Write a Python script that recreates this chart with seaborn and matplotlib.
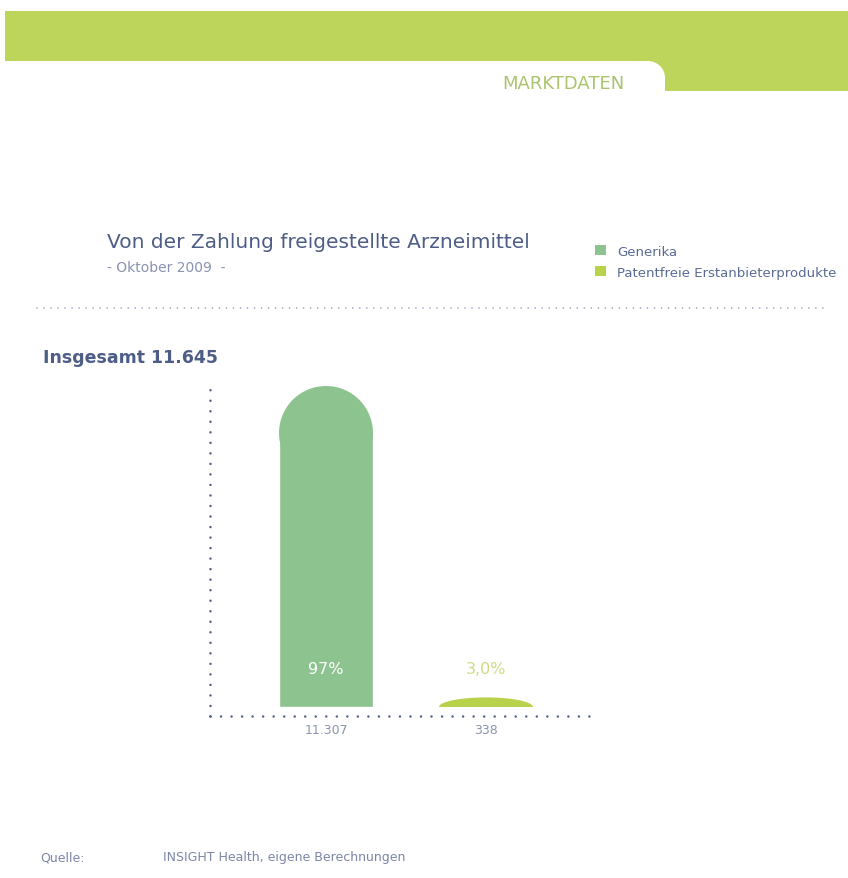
import matplotlib
matplotlib.use("Agg")
import matplotlib.pyplot as plt
from matplotlib.patches import Rectangle, Ellipse, Patch
from matplotlib.lines import Line2D
import pandas as pd
import seaborn as sns

# Daten
kategorien = ["Generika", "Patentfreie Erstanbieterprodukte"]
anzahl = [11307, 338]
wert_labels = ["11.307", "338"]
prozent_labels = ["97%", "3,0%"]
gesamt_label = "Insgesamt 11.645"

farben = ["#8DC38F", "#B9D24C"]
banner_gruen = "#BDD55A"
blau = "#4E5D88"
grau = "#8A93B0"

sns.set_theme(style="white")
plt.rcParams["font.family"] = ["DejaVu Sans"]

W, H = 848, 879
fig = plt.figure(figsize=(W / 100, H / 100), dpi=100)
fig.patch.set_facecolor("white")


def fx(px):
    return px / W


def fy(py):
    return 1 - py / H


# Kopfzeile mit Reiter
fig.add_artist(Rectangle((fx(5), fy(62)), fx(848 - 5), 50 / H, transform=fig.transFigure,
                         facecolor=banner_gruen, edgecolor="none"))
fig.add_artist(Rectangle((fx(648), fy(92)), fx(848 - 648), 31 / H, transform=fig.transFigure,
                         facecolor=banner_gruen, edgecolor="none"))
fig.add_artist(Rectangle((fx(600), fy(92)), fx(48), 30 / H, transform=fig.transFigure,
                         facecolor="white", edgecolor="none"))
fig.add_artist(Rectangle((fx(640), fy(92)), fx(25), 14 / H, transform=fig.transFigure,
                         facecolor="white", edgecolor="none"))
# abgerundete Ecke
fig.add_artist(Ellipse((fx(648), fy(79)), 34 / W, 34 / H, transform=fig.transFigure,
                       facecolor="white", edgecolor="none"))
fig.text(fx(502), fy(84), "MARKTDATEN", fontsize=13, color="#A9C46C",
         ha="left", va="center")

# Titel
fig.text(fx(107), fy(243), "Von der Zahlung freigestellte Arzneimittel",
         fontsize=14.5, color=blau, ha="left", va="center")
fig.text(fx(107), fy(268), "- Oktober 2009  -", fontsize=10, color=grau,
         ha="left", va="center")

# Trennlinie
fig.add_artist(Line2D([fx(37), fx(824)], [fy(309), fy(309)], transform=fig.transFigure,
                      color="#9AA0B8", lw=1.2, linestyle=(0, (0.01, 4.2)),
                      solid_capstyle="round", dash_capstyle="round"))

fig.text(fx(43), fy(358), gesamt_label, fontsize=12.5, fontweight="bold",
         color=blau, ha="left", va="center")

# Diagramm
ax = fig.add_axes([fx(210), fy(717), fx(598 - 210), (717 - 382) / H])
df = pd.DataFrame({"kategorie": kategorien, "anzahl": anzahl})
sns.barplot(data=df, x="kategorie", y="anzahl", hue="kategorie", palette=farben,
            width=0.5875, legend=False, ax=ax, saturation=1)
ax.set_xlim(-0.725, 1.7)
ax.set_ylim(-317, 11483)

px_pro_x = ax.bbox.width / (1.7 + 0.725)
px_pro_y = ax.bbox.height / (11483 + 317)

# Balken mit runder Oberseite
for patch in list(ax.patches):
    x0, w, h = patch.get_x(), patch.get_width(), patch.get_height()
    ry = (w * px_pro_x / 2) / px_pro_y
    ry = min(ry, h)
    farbe = patch.get_facecolor()
    patch.set_height(h - ry)
    kuppel = Ellipse((x0 + w / 2, h - ry), w, 2 * ry, facecolor=farbe, edgecolor="none")
    ax.add_patch(kuppel)
    kuppel.set_clip_path(Rectangle((x0, 0), w, h, transform=ax.transData))

for i, lab in enumerate(prozent_labels):
    ax.annotate(lab, (i, 0), xytext=(0, 28), textcoords="offset points",
                ha="center", va="center", fontsize=11.5,
                color="white" if i == 0 else "#CFDA86")

ax.set_xticks([0, 1], labels=wert_labels)
ax.tick_params(axis="x", length=0, pad=5, labelsize=9, labelcolor=grau)
ax.set_yticks([])
ax.set_xlabel("")
ax.set_ylabel("")
for s in ["top", "right"]:
    ax.spines[s].set_visible(False)
for s in ["left", "bottom"]:
    ax.spines[s].set_color(blau)
    ax.spines[s].set_linewidth(1.8)
    ax.spines[s].set_linestyle((0, (0.01, 4.2)))
    ax.spines[s].set_capstyle("round")

# Legende
handles = [Patch(facecolor=c, edgecolor="none") for c in farben]
fig.legend(handles, kategorien, loc="upper left", bbox_to_anchor=(fx(595), fy(246)),
           frameon=False, fontsize=9.5, labelcolor="#5A6A95", borderpad=0,
           borderaxespad=0, handlelength=0.8, handleheight=0.8,
           handletextpad=0.9, labelspacing=0.6)

# Quelle
fig.text(fx(40), fy(858), "Quelle:", fontsize=9, color="#7C86A6", ha="left", va="center")
fig.text(fx(163), fy(858), "INSIGHT Health, eigene Berechnungen", fontsize=9,
         color="#7C86A6", ha="left", va="center")

fig.savefig("out.png", dpi=100, facecolor="white")
